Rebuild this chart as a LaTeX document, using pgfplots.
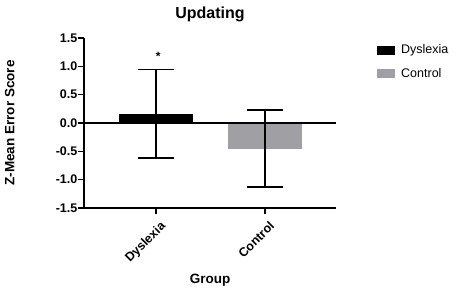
\documentclass[border=0pt]{standalone}
\usepackage{pgfplots}
\pgfplotsset{compat=1.18}
\usepackage{fontspec}
\setmainfont{Liberation Sans}
\definecolor{ctrl}{RGB}{160,160,164}
\begin{document}
\begin{tikzpicture}[x=1pt,y=1pt]
\begin{axis}[
  name=ax,
  at={(0,0)}, anchor=south west,
  scale only axis, width=252pt, height=170pt,
  xmin=-0.66, xmax=1.65, ymin=-1.5, ymax=1.5,
  axis x line*=bottom, axis y line*=left,
  axis line style={line width=1.6pt, -},
  xtick={0,1}, xticklabels={Dyslexia,Control},
  ytick={-1.5,-1,-0.5,0,0.5,1,1.5},
  /pgf/number format/fixed, /pgf/number format/fixed zerofill, /pgf/number format/precision=1,
  /pgf/number format/assume math mode=true,
  tick style={line width=1.4pt, black},
  tick align=outside, major tick length=6pt,
  ticklabel style={font=\fontsize{12.5}{14}\selectfont\bfseries},
  x tick label style={rotate=45, anchor=north east, inner sep=1pt, xshift=-1pt, yshift=-6pt},
  y tick label style={inner sep=0.5pt},
  ylabel={Z-Mean Error Score},
  xlabel={Group},
  label style={font=\fontsize{13.5}{15}\selectfont\bfseries},
  ylabel style={at={(axis description cs:0,0.5)}, rotate=0, anchor=south, yshift=66pt},
  xlabel style={yshift=-4pt},
  title={Updating},
  title style={font=\fontsize{16}{18}\selectfont\bfseries, yshift=7pt},
  ybar, bar width=0.67, bar shift=0pt,
  legend style={at={(1.15,0.985)}, anchor=north west, draw=none, fill=none,
    font=\fontsize{12.5}{14}\selectfont, row sep=9pt, legend cell align=left},
  legend image code/.code={\fill[#1] (0pt,-4pt) rectangle (17pt,4pt); \path[draw=none,fill=none] (0pt,0pt) -- (22pt,0pt);},
  clip=false,
]
\addplot[fill=black, draw=black,
  error bars/.cd, y dir=both, y explicit,
  error bar style={line width=1.4pt, black},
  error mark options={rotate=90, mark size=18pt, line width=1.4pt, black}]
  coordinates {(0,0.16) +- (0,0.78)};
\addlegendentry{Dyslexia}
\addplot[fill=ctrl, draw=ctrl,
  error bars/.cd, y dir=both, y explicit,
  error bar style={line width=1.4pt, black},
  error mark options={rotate=90, mark size=18pt, line width=1.4pt, black}]
  coordinates {(1,-0.45) +- (0,0.68)};
\addlegendentry{Control}
\draw[line width=1.6pt] (axis cs:-0.66,0) -- (axis cs:1.65,0);
\node[font=\fontsize{12}{13}\selectfont\bfseries] at (axis cs:0.02,1.17) {*};
\end{axis}
\path (-84,-80) rectangle (375,208);
\end{tikzpicture}
\end{document}
